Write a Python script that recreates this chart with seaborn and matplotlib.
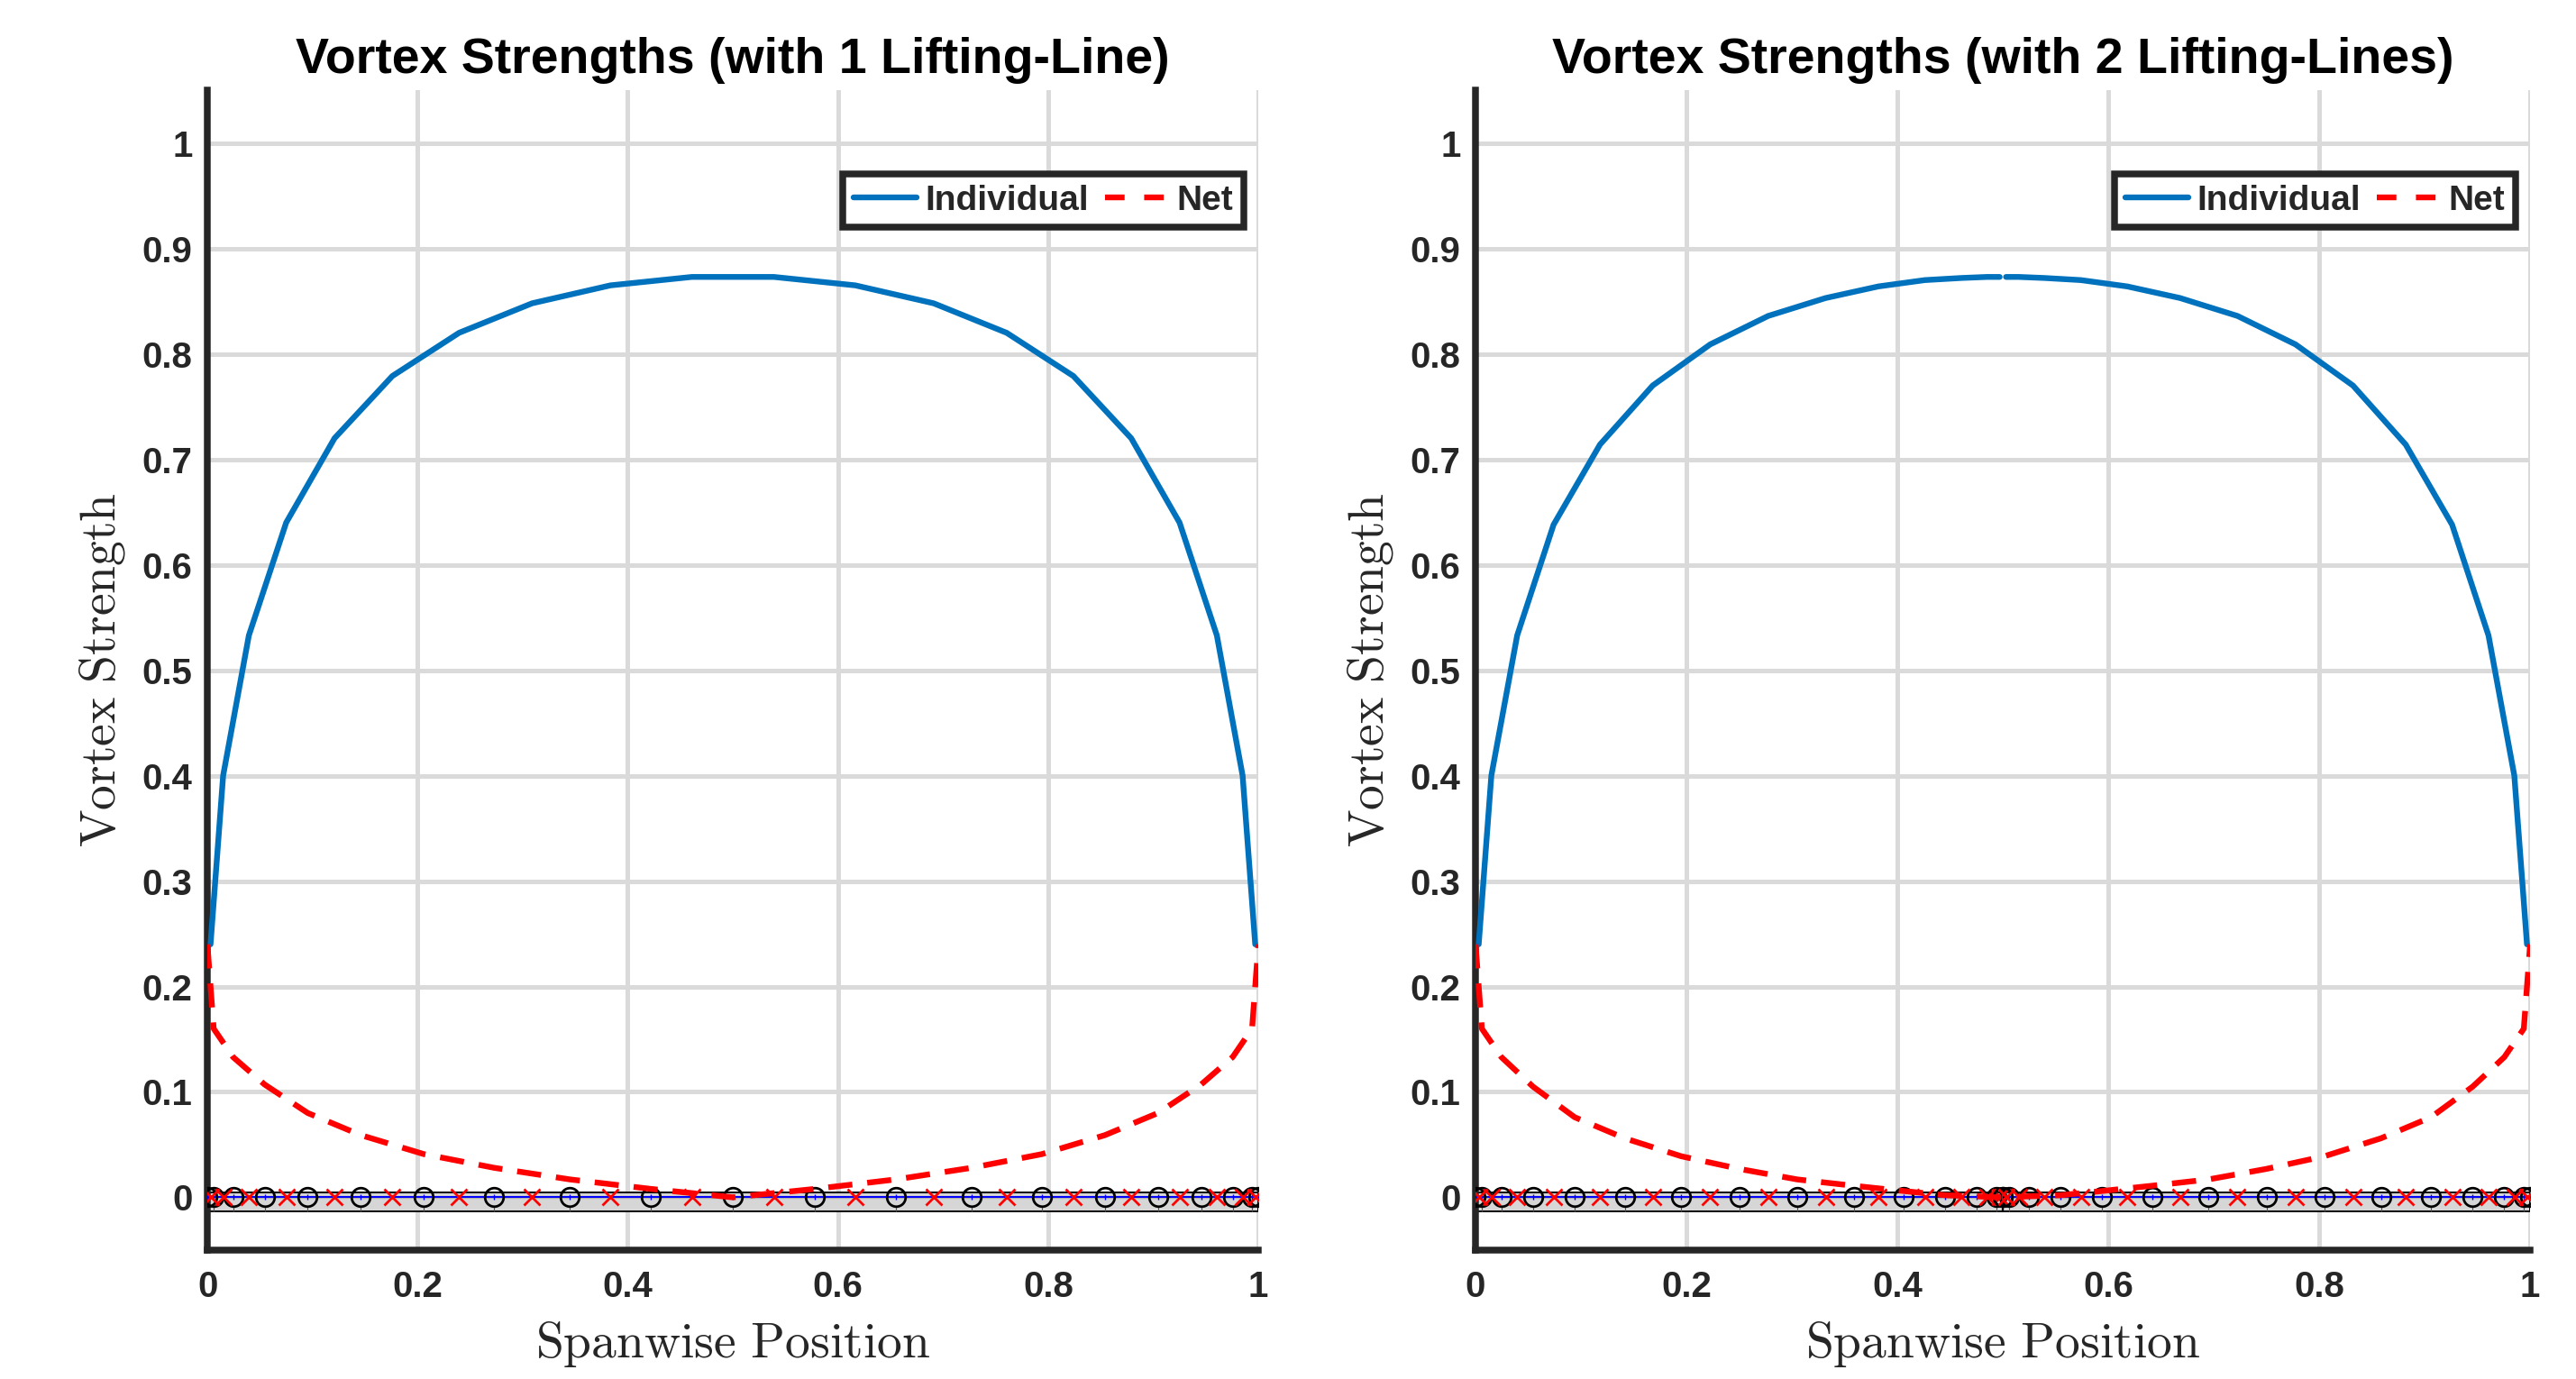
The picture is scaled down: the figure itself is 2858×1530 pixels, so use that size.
import numpy as np
import matplotlib
matplotlib.use("Agg")
import matplotlib.pyplot as plt
import seaborn as sns
from matplotlib.patches import Rectangle
from matplotlib.lines import Line2D

# ---- data ----
# 1 lifting line: trailing-vortex nodes, control points, strengths
nodes_1ll = [0.0, 0.006, 0.0245, 0.0545, 0.0955, 0.146, 0.206, 0.273, 0.345, 0.422, 0.5,
             0.578, 0.655, 0.727, 0.794, 0.854, 0.9045, 0.9455, 0.9755, 0.994, 1.0]
ctrl_1ll = [0.003, 0.015, 0.0395, 0.075, 0.121, 0.176, 0.2395, 0.309, 0.3835, 0.461,
            0.539, 0.6165, 0.691, 0.7605, 0.824, 0.879, 0.925, 0.9605, 0.985, 0.997]
gamma_1ll = [0.24, 0.40, 0.533, 0.64, 0.72, 0.779, 0.82, 0.848, 0.865, 0.873,
             0.873, 0.865, 0.848, 0.82, 0.779, 0.72, 0.64, 0.533, 0.40, 0.24]
net_1ll = [0.24, 0.16, 0.133, 0.107, 0.08, 0.059, 0.041, 0.028, 0.017, 0.008, 0.0,
           0.008, 0.017, 0.028, 0.041, 0.059, 0.08, 0.107, 0.133, 0.16, 0.24]

# 2 lifting lines (a: 0..0.5, b: 0.5..1)
nodes_a = [0.0, 0.006, 0.0245, 0.0545, 0.094, 0.1415, 0.195, 0.25, 0.305, 0.3585,
           0.406, 0.4455, 0.4755, 0.494, 0.5]
nodes_b = [0.5, 0.506, 0.5245, 0.5545, 0.594, 0.6415, 0.695, 0.75, 0.805, 0.8585,
           0.906, 0.9455, 0.9755, 0.994, 1.0]
ctrl_a = [0.003, 0.015, 0.0395, 0.074, 0.118, 0.168, 0.2225, 0.2775, 0.332, 0.382,
          0.426, 0.4605, 0.485, 0.497]
ctrl_b = [0.503, 0.515, 0.5395, 0.574, 0.618, 0.668, 0.7225, 0.7775, 0.832, 0.882,
          0.926, 0.9605, 0.985, 0.997]
gamma_a = [0.24, 0.40, 0.533, 0.638, 0.714, 0.770, 0.809, 0.836, 0.853, 0.864,
           0.870, 0.872, 0.873, 0.873]
gamma_b = [0.873, 0.873, 0.872, 0.870, 0.864, 0.853, 0.836, 0.809, 0.770, 0.714,
           0.638, 0.533, 0.40, 0.24]
nodes_2ll = [0.0, 0.006, 0.0245, 0.0545, 0.094, 0.1415, 0.195, 0.25, 0.305, 0.3585,
             0.406, 0.4455, 0.4755, 0.494, 0.5, 0.506, 0.5245, 0.5545, 0.594, 0.6415,
             0.695, 0.75, 0.805, 0.8585, 0.906, 0.9455, 0.9755, 0.994, 1.0]
net_2ll = [0.24, 0.16, 0.133, 0.105, 0.076, 0.056, 0.039, 0.027, 0.017, 0.011,
           0.006, 0.002, 0.001, 0.0, 0.0, 0.0, 0.001, 0.002, 0.006, 0.011,
           0.017, 0.027, 0.039, 0.056, 0.076, 0.105, 0.133, 0.16, 0.24]

xticks = [0, 0.2, 0.4, 0.6, 0.8, 1]
xtick_labels = ["0", "0.2", "0.4", "0.6", "0.8", "1"]
yticks = [0, 0.1, 0.2, 0.3, 0.4, 0.5, 0.6, 0.7, 0.8, 0.9, 1]
ytick_labels = ["0", "0.1", "0.2", "0.3", "0.4", "0.5", "0.6", "0.7", "0.8", "0.9", "1"]

titles = ["Vortex Strengths (with 1 Lifting-Line)", "Vortex Strengths (with 2 Lifting-Lines)"]

sns.set_theme(style="white")
plt.rcParams["font.family"] = ["Liberation Sans", "DejaVu Sans"]
plt.rcParams["mathtext.fontset"] = "cm"

BLUE = "#0072BD"
DARK = "#262626"
DASH = (0, (4.2, 2.6))

fig = plt.figure(figsize=(14.29, 7.65), dpi=200)
ax1 = fig.add_axes([0.0805, 0.0935, 0.408, 0.841])
ax2 = fig.add_axes([0.5728, 0.0935, 0.4094, 0.841])


def draw_panel(ax, x0, x1, nodes, ctrl):
    # wing panel strip along y = 0
    ax.add_patch(Rectangle((x0, -0.0137), x1 - x0, 0.0187, facecolor="#d6d6d6",
                           edgecolor="black", lw=0.7, zorder=2))
    ax.plot([x0, x1], [0.0, 0.0], color="#b0b0b0", lw=1.2, zorder=2)
    ax.vlines(nodes, -0.0137, -0.009, color="#555555", lw=0.4, zorder=2)
    ax.plot(nodes, np.zeros(len(nodes)), color="blue", lw=0.7, marker="|",
            ms=2.5, mew=0.5, zorder=3)
    ax.plot(nodes, np.zeros(len(nodes)), ls="none", marker="o", ms=7.4,
            mfc="none", mec="black", mew=1.0, zorder=4)
    ax.plot(ctrl, np.zeros(len(ctrl)), ls="none", marker="x", ms=6.8,
            mec="red", mew=1.0, zorder=4)


def style(ax, title):
    ax.set_xlim(0, 1)
    ax.set_ylim(-0.05, 1.05)
    ax.set_xticks(xticks)
    ax.set_xticklabels(xtick_labels, fontweight="bold")
    ax.set_yticks(yticks)
    ax.set_yticklabels(ytick_labels, fontweight="bold")
    ax.grid(True, color="#dadada", lw=1.8)
    ax.set_axisbelow(True)
    for s in ["top", "right"]:
        ax.spines[s].set_visible(False)
    for s in ["left", "bottom"]:
        ax.spines[s].set_linewidth(2.7)
        ax.spines[s].set_color(DARK)
    ax.tick_params(direction="in", length=4.5, width=2, color=DARK,
                   labelcolor=DARK, labelsize=14.5)
    ax.tick_params(axis="x", pad=8)
    ax.tick_params(axis="y", pad=6)
    ax.set_title(title, fontsize=20, fontweight="bold", color="black", pad=7)
    ax.set_xlabel(r"$\mathrm{Spanwise\ Position}$", fontsize=20, color=DARK, labelpad=6)
    ax.set_ylabel(r"$\mathrm{Vortex\ Strength}$", fontsize=20, color=DARK, labelpad=6)
    handles = [Line2D([], [], color=BLUE, lw=2.3),
               Line2D([], [], color="red", lw=2.3, ls=(0, (3.4, 3.4)))]
    leg = ax.legend(handles, ["Individual", "Net"], ncol=2, loc="upper right",
                    bbox_to_anchor=(0.986, 0.928), fancybox=False, framealpha=1,
                    edgecolor=DARK, prop={"weight": "bold", "size": 14},
                    handlelength=1.8, handletextpad=0.25, columnspacing=0.45,
                    borderpad=0.3, borderaxespad=0)
    leg.get_frame().set_linewidth(2.7)


# left: one lifting line
draw_panel(ax1, 0.0, 1.0, nodes_1ll, ctrl_1ll)
sns.lineplot(x=ctrl_1ll, y=gamma_1ll, ax=ax1, color=BLUE, lw=2.3, sort=False,
             estimator=None, zorder=5)
sns.lineplot(x=nodes_1ll, y=net_1ll, ax=ax1, color="red", lw=2.3, sort=False,
             estimator=None, linestyle=DASH, zorder=6)
style(ax1, titles[0])

# right: two lifting lines
draw_panel(ax2, 0.0, 0.5, nodes_a, ctrl_a)
draw_panel(ax2, 0.5, 1.0, nodes_b, ctrl_b)
ax2.plot([0.5, 0.5], [-0.0137, 0.005], color="black", lw=0.8, zorder=3)
sns.lineplot(x=ctrl_a, y=gamma_a, ax=ax2, color=BLUE, lw=2.3, sort=False,
             estimator=None, zorder=5)
sns.lineplot(x=ctrl_b, y=gamma_b, ax=ax2, color=BLUE, lw=2.3, sort=False,
             estimator=None, zorder=5)
sns.lineplot(x=nodes_2ll, y=net_2ll, ax=ax2, color="red", lw=2.3, sort=False,
             estimator=None, linestyle=DASH, zorder=6)
style(ax2, titles[1])

fig.savefig("out.png", dpi=200)
